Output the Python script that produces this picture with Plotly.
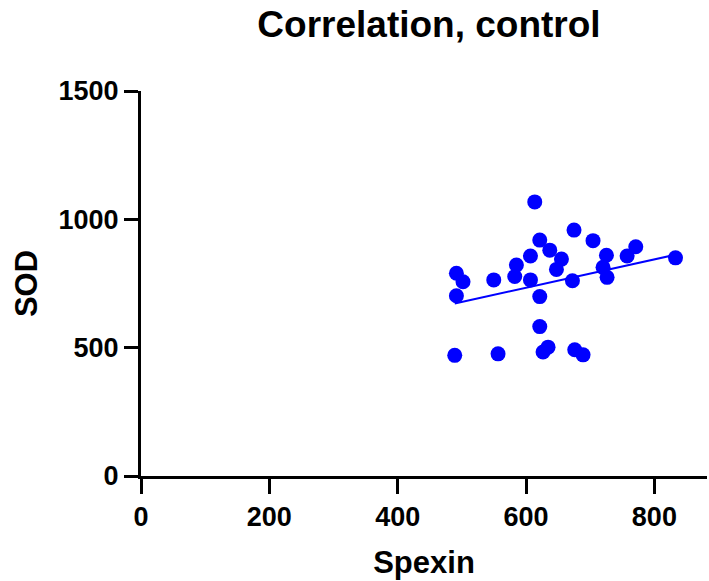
import numpy as np
import plotly.graph_objects as go

spexin = [613.6, 674.8, 704.4, 621.4, 637.0, 606.9, 655.2, 647.4, 725.3, 771.0,
          757.5, 832.9, 585.0, 582.4, 606.9, 549.7, 491.5, 501.8, 491.5, 621.4,
          672.3, 720.0, 726.3, 621.4, 488.9, 556.4, 634.3, 626.5, 675.9, 688.9]
sod = [1068, 958, 917, 919, 880, 857, 845, 805, 860, 893,
       857, 850, 822, 777, 764, 764, 790, 757, 702, 699,
       761, 813, 774, 582, 470, 476, 502, 483, 492, 472]

title_text = "Correlation, control"
x_title = "Spexin"
y_title = "SOD"
x_ticks = [0, 200, 400, 600, 800]
y_ticks = [0, 500, 1000, 1500]

x = np.array(spexin)
y = np.array(sod)
slope, intercept = np.polyfit(x, y, 1)
fit_x = np.array([x.min(), x.max()])
fit_y = slope * fit_x + intercept

FONT = "Liberation Sans, Arial, sans-serif"
BLUE = "#0000FF"

fig = go.Figure()
fig.add_trace(go.Scatter(x=fit_x, y=fit_y, mode="lines",
                         line=dict(color=BLUE, width=2), showlegend=False,
                         hoverinfo="skip"))
fig.add_trace(go.Scatter(x=spexin, y=sod, mode="markers",
                         marker=dict(color=BLUE, size=15, line=dict(width=0)),
                         showlegend=False))

fig.update_layout(
    width=709, height=581,
    paper_bgcolor="white", plot_bgcolor="white",
    margin=dict(l=141, r=2, t=91, b=105, autoexpand=False),
    title=dict(text=title_text, x=0.5 + 5 / 566, xanchor="center", xref="paper",
               y=1 - 24 / 581, yanchor="middle", yref="container",
               font=dict(family=FONT, size=37, color="black", weight="bold")),
    font=dict(family=FONT, color="black"),
)
fig.update_xaxes(
    range=[0, 882], tickvals=x_ticks, ticktext=[str(v) for v in x_ticks],
    showgrid=False, zeroline=False, showline=True, linecolor="black", linewidth=3,
    ticks="outside", ticklen=15, tickwidth=3, tickcolor="black", automargin=False,
    tickfont=dict(family=FONT, size=27, color="black", weight="bold"),
    title=dict(text=x_title, standoff=20,
               font=dict(family=FONT, size=31, color="black", weight="bold")),
)
fig.update_yaxes(
    range=[0, 1500], tickvals=y_ticks, ticktext=[str(v) for v in y_ticks],
    showgrid=False, zeroline=False, showline=True, linecolor="black", linewidth=3,
    ticks="outside", ticklen=14, tickwidth=3, tickcolor="black", automargin=False,
    tickfont=dict(family=FONT, size=27, color="black", weight="bold"),
    title=dict(text=y_title, standoff=12,
               font=dict(family=FONT, size=31, color="black", weight="bold")),
)

fig.write_html("out.html", config={"displayModeBar": False},
               post_script="document.body.style.margin='0';")
